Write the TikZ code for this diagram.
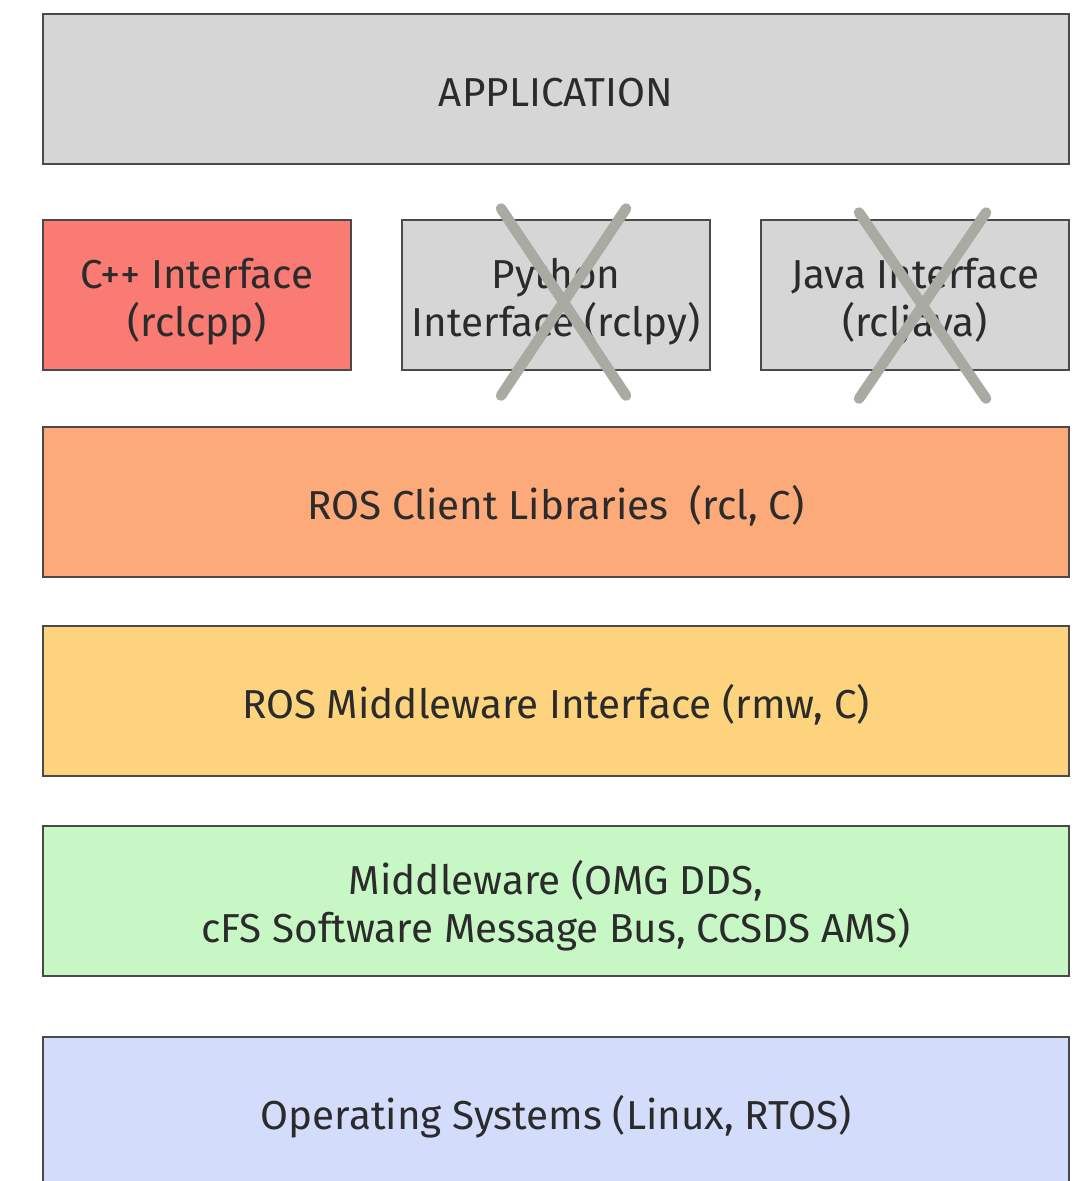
\documentclass[tikz,border=0pt]{standalone}
\usepackage{fontspec}
\setmainfont{Fira Sans}
\usetikzlibrary{positioning}

\definecolor{boxline}{HTML}{4A4A4A}
\definecolor{txtgray}{HTML}{2B2B2B}
\definecolor{appgray}{HTML}{D6D6D6}
\definecolor{cppred}{HTML}{F97B73}
\definecolor{rclorange}{HTML}{FDAA7A}
\definecolor{rmwyellow}{HTML}{FDD47D}
\definecolor{ddsgreen}{HTML}{C6F7C5}
\definecolor{osblue}{HTML}{D3DCFB}
\definecolor{crossgray}{HTML}{A9ABA3}

\tikzset{
  layer/.style={draw=boxline, line width=0.6pt, anchor=north west,
    minimum width=10.26cm, inner sep=0pt, text height=0.92cm, text depth=0.58cm,
    text=txtgray, align=center, font=\fontsize{11.5}{13.6}\selectfont},
  twoline/.style={text height=1.16cm, text depth=0.34cm},
  iface/.style={layer, twoline, minimum width=3.08cm},
  cross/.style={draw=crossgray, line width=3pt, line cap=round}
}

\begin{document}
\begin{tikzpicture}
  \useasboundingbox (0,0) rectangle (10.79,-11.81);
  \fill[white] (0,0) rectangle (10.79,-11.81);

  \node[layer, fill=appgray] (app) at (0.42,-0.13) {APPLICATION};

  \node[iface, fill=cppred] (cpp) at (0.42,-2.19) {C++ Interface\\(rclcpp)};
  \node[iface, fill=appgray] (py) at (4.01,-2.19) {Python\\Interface (rclpy)};
  \node[iface, fill=appgray] (java) at (7.60,-2.19) {Java Interface\\(rcljava)};

  \node[layer, fill=rclorange] (rcl) at (0.42,-4.26) {ROS Client Libraries \ (rcl, C)};
  \node[layer, fill=rmwyellow] (rmw) at (0.42,-6.25) {ROS Middleware Interface (rmw, C)};
  \node[layer, twoline, fill=ddsgreen] (dds) at (0.42,-8.25) {Middleware (OMG DDS,\\cFS Software Message Bus, CCSDS AMS)};
  \node[layer, fill=osblue, text depth=0.70cm] (os) at (0.42,-10.36) {Operating Systems (Linux, RTOS)};

  % unsupported interfaces
  \draw[cross] (py.center) +(-0.55,0.865) -- +(0.70,-1.005);
  \draw[cross] (py.center) +(0.70,0.865) -- +(-0.55,-1.005);
  \draw[cross] (java.center) +(-0.56,0.825) -- +(0.71,-1.035);
  \draw[cross] (java.center) +(0.71,0.825) -- +(-0.56,-1.035);
\end{tikzpicture}
\end{document}
